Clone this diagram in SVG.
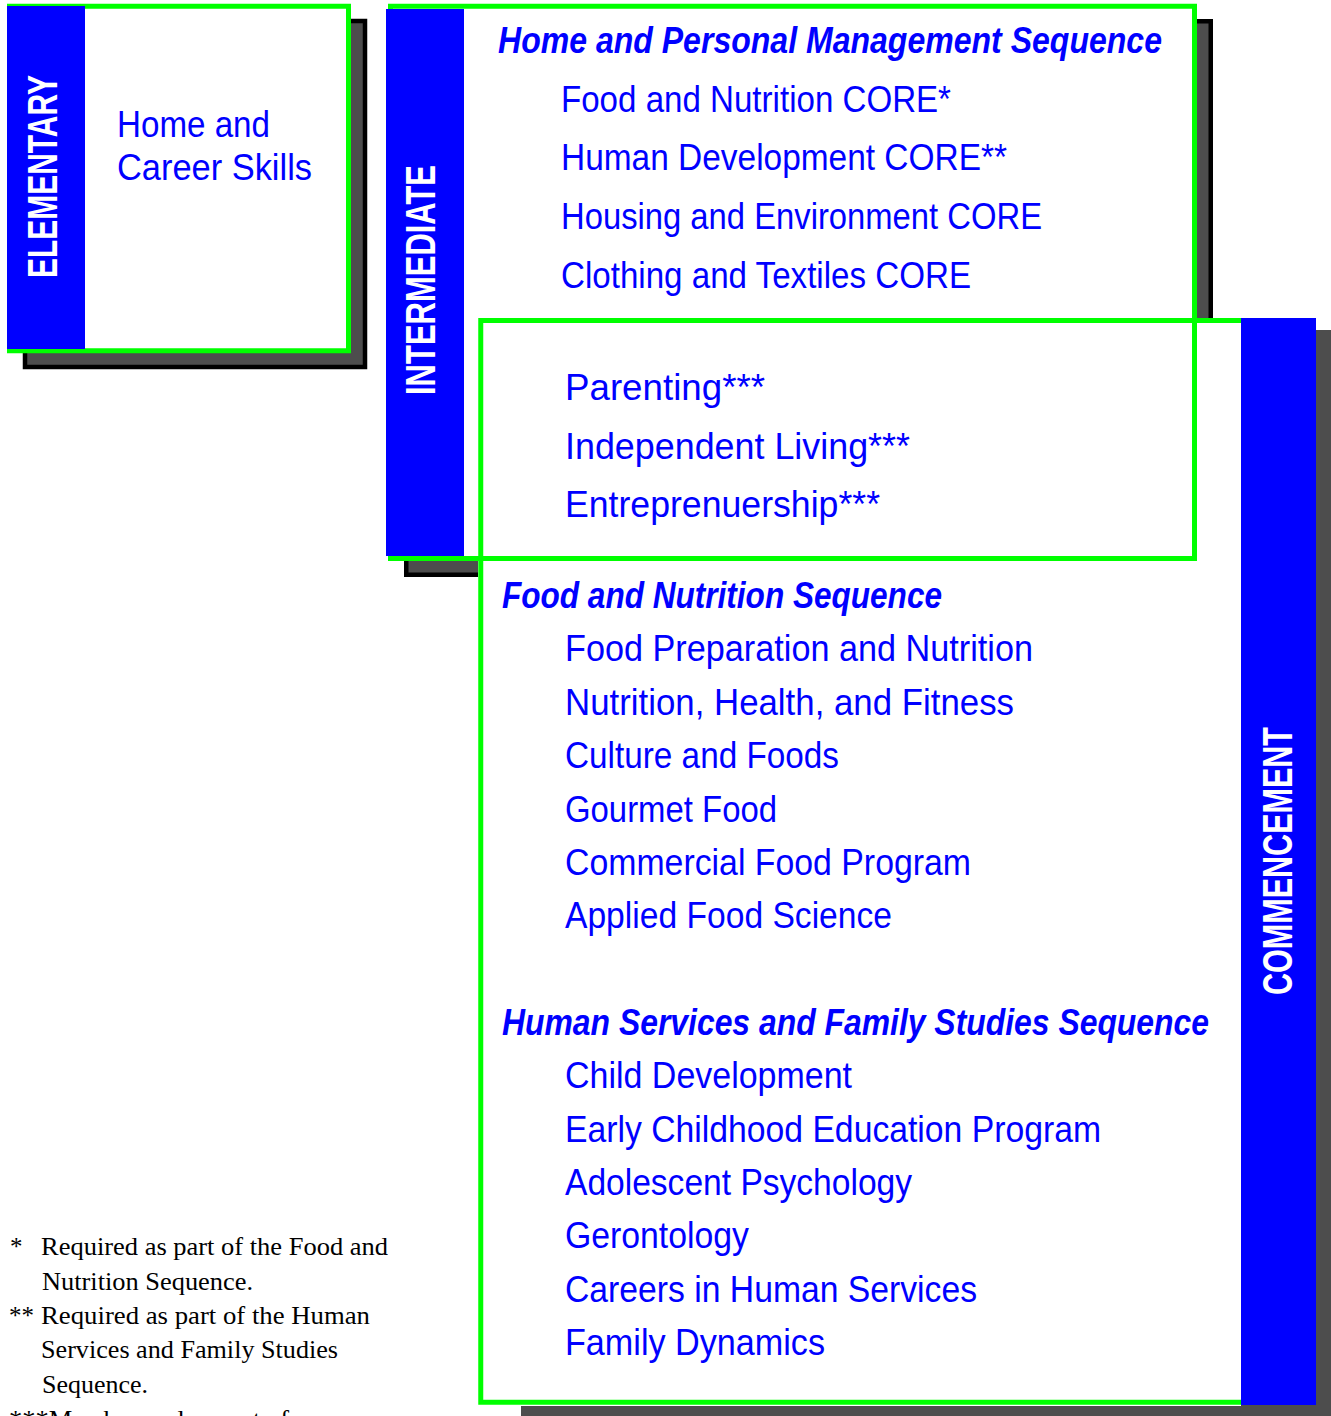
<svg xmlns="http://www.w3.org/2000/svg" width="1331" height="1416" viewBox="0 0 1331 1416">
<style>
.shadow{fill:#4d4d4d;stroke:#000;stroke-width:4.5}
.box{fill:#fff;stroke:none}
.frame{fill:none;stroke:#00ff00;stroke-width:5}
.bar{fill:#0000ff}
.lvl{font-family:"Liberation Sans",Arial,sans-serif;font-weight:bold;font-size:43px;fill:#fff;text-anchor:middle}
.item{font-family:"Liberation Sans",Arial,sans-serif;font-size:36px;fill:#0000ff}
.head{font-family:"Liberation Sans",Arial,sans-serif;font-size:36px;font-style:italic;font-weight:bold;fill:#0000ff}
.note{font-family:"Liberation Serif","Times New Roman",serif;font-size:25px;fill:#000}
</style>
<rect width="1331" height="1416" fill="#fff"/>

<g id="elementary">
  <rect class="shadow" x="25" y="21" width="340" height="346"/>
  <rect class="box" x="9.5" y="6.25" width="339" height="344.5"/>
  <rect class="frame" x="9.5" y="6.25" width="339" height="344.5"/>
  <rect class="bar" x="7" y="6" width="78" height="343"/>
  <text class="lvl" transform="translate(57,176.5) rotate(-90)" x="0" y="0" textLength="203" lengthAdjust="spacingAndGlyphs">ELEMENTARY</text>
  <text class="item" x="117" y="137" textLength="153" lengthAdjust="spacingAndGlyphs">Home and</text>
  <text class="item" x="117" y="180" textLength="195" lengthAdjust="spacingAndGlyphs">Career Skills</text>
</g>

<g id="shadows">
  <rect class="shadow" x="406.25" y="21.25" width="804.5" height="553.5"/>
  <rect fill="#4d4d4d" x="521" y="330" width="830" height="1100"/>
</g>

<g id="backgrounds">
  <rect class="box" x="388" y="4" width="809" height="557"/>
  <rect class="box" x="478" y="318" width="763" height="1088"/>
</g>

<g id="intermediate">
  <rect class="frame" x="390.5" y="6.25" width="804" height="552.25"/>
  <rect class="bar" x="386" y="9" width="78" height="547"/>
  <text class="lvl" transform="translate(435,280) rotate(-90)" x="0" y="0" font-size="42" textLength="230" lengthAdjust="spacingAndGlyphs">INTERMEDIATE</text>
  <text class="head" x="498" y="53" textLength="664" lengthAdjust="spacingAndGlyphs">Home and Personal Management Sequence</text>
  <text class="item" x="561" y="112" textLength="390" lengthAdjust="spacingAndGlyphs">Food and Nutrition CORE*</text>
  <text class="item" x="561" y="170" textLength="446" lengthAdjust="spacingAndGlyphs">Human Development CORE**</text>
  <text class="item" x="561" y="229" textLength="481" lengthAdjust="spacingAndGlyphs">Housing and Environment CORE</text>
  <text class="item" x="561" y="288" textLength="410" lengthAdjust="spacingAndGlyphs">Clothing and Textiles CORE</text>
  <text class="item" x="565" y="400" textLength="200" lengthAdjust="spacingAndGlyphs">Parenting***</text>
  <text class="item" x="565" y="459" textLength="345" lengthAdjust="spacingAndGlyphs">Independent Living***</text>
  <text class="item" x="565" y="517" textLength="315" lengthAdjust="spacingAndGlyphs">Entreprenuership***</text>
</g>

<g id="commencement">
  <rect class="frame" x="480.75" y="320.5" width="770" height="1081.75"/>
  <rect class="bar" x="1241" y="318" width="75" height="1087"/>
  <text class="lvl" transform="translate(1292,861) rotate(-90)" x="0" y="0" textLength="268" lengthAdjust="spacingAndGlyphs">COMMENCEMENT</text>
  <text class="head" x="502" y="608" textLength="440" lengthAdjust="spacingAndGlyphs">Food and Nutrition Sequence</text>
  <text class="item" x="565" y="661" textLength="468" lengthAdjust="spacingAndGlyphs">Food Preparation and Nutrition</text>
  <text class="item" x="565" y="715" textLength="449" lengthAdjust="spacingAndGlyphs">Nutrition, Health, and Fitness</text>
  <text class="item" x="565" y="768" textLength="274" lengthAdjust="spacingAndGlyphs">Culture and Foods</text>
  <text class="item" x="565" y="822" textLength="212" lengthAdjust="spacingAndGlyphs">Gourmet Food</text>
  <text class="item" x="565" y="875" textLength="406" lengthAdjust="spacingAndGlyphs">Commercial Food Program</text>
  <text class="item" x="565" y="928" textLength="327" lengthAdjust="spacingAndGlyphs">Applied Food Science</text>
  <text class="head" x="502" y="1035" textLength="707" lengthAdjust="spacingAndGlyphs">Human Services and Family Studies Sequence</text>
  <text class="item" x="565" y="1088" textLength="287" lengthAdjust="spacingAndGlyphs">Child Development</text>
  <text class="item" x="565" y="1142" textLength="536" lengthAdjust="spacingAndGlyphs">Early Childhood Education Program</text>
  <text class="item" x="565" y="1195" textLength="347" lengthAdjust="spacingAndGlyphs">Adolescent Psychology</text>
  <text class="item" x="565" y="1248" textLength="184" lengthAdjust="spacingAndGlyphs">Gerontology</text>
  <text class="item" x="565" y="1302" textLength="412" lengthAdjust="spacingAndGlyphs">Careers in Human Services</text>
  <text class="item" x="565" y="1355" textLength="260" lengthAdjust="spacingAndGlyphs">Family Dynamics</text>
</g>

<g id="connectors"/>

<g id="footnotes">
  <text class="note" x="10" y="1255">*</text>
  <text class="note" x="41" y="1255" textLength="347" lengthAdjust="spacingAndGlyphs">Required as part of the Food and</text>
  <text class="note" x="42" y="1290" textLength="211" lengthAdjust="spacingAndGlyphs">Nutrition Sequence.</text>
  <text class="note" x="9" y="1324">**</text>
  <text class="note" x="41" y="1324" textLength="329" lengthAdjust="spacingAndGlyphs">Required as part of the Human</text>
  <text class="note" x="41" y="1358" textLength="297" lengthAdjust="spacingAndGlyphs">Services and Family Studies</text>
  <text class="note" x="42" y="1393" textLength="106" lengthAdjust="spacingAndGlyphs">Sequence.</text>
  <text class="note" x="9" y="1428" textLength="280" lengthAdjust="spacingAndGlyphs">***May be used as part of</text>
</g>
</svg>
